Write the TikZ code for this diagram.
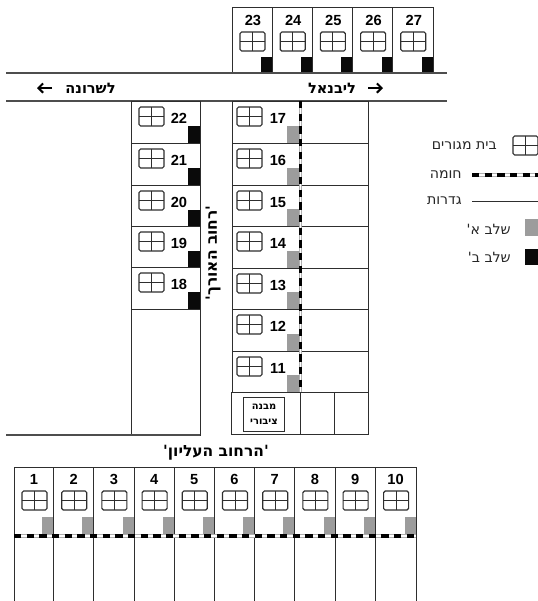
\documentclass[tikz,border=0pt]{standalone}
\usepackage{fontspec}
\setmainfont{Liberation Sans}
\newfontfamily\heb[Script=Hebrew]{DejaVu Sans}
\TeXXeTstate=1
\usetikzlibrary{arrows.meta}
\definecolor{ink}{HTML}{2E2E2E}
\definecolor{stageA}{HTML}{9C9C9C}
\definecolor{stageB}{HTML}{0A0A0A}
\tikzset{
  x=0.75pt,y=-0.75pt,
  fence/.style={draw=ink,line width=0.75pt},
  street/.style={draw=ink!85,line width=0.95pt},
  lot/.style={fence,fill=white},
  windowbox/.style={draw=ink,line width=0.85pt,rounded corners=1.2pt,fill=white},
  windowbar/.style={draw=ink,line width=0.7pt},
  sqA/.style={fill=stageA,draw=none},
  sqB/.style={fill=stageB,draw=none},
  numlabel/.style={font=\bfseries\fontsize{11}{12}\selectfont,text=black,inner sep=0pt,text height=8pt,text depth=0pt},
  heblabel/.style={font=\heb\bfseries\fontsize{10.9}{12}\selectfont,text=black,inner sep=0pt},
  streetname/.style={font=\heb\bfseries\fontsize{11.6}{13}\selectfont,text=black,inner sep=0pt},
  legendlabel/.style={font=\heb\fontsize{10.6}{12}\selectfont,text=black!85,inner sep=0pt},
  boxlabel/.style={font=\heb\bfseries\fontsize{7.4}{10}\selectfont,text=black,inner sep=0pt,align=center},
  dirarrow/.style={draw=black,line width=1.5pt,-{Straight Barb[length=3.5pt,width=7pt,line width=1.5pt]}},
  wallbase/.style={draw=stageA!80,line width=2.6pt},
  wallmid/.style={draw=white,line width=1.1pt},
  walldash/.style={draw=black,line width=2.6pt,dash pattern=on 5.5pt off 4pt},
}
% window at top-left (#1,#2)
\newcommand{\winbox}[2]{%
  \draw[windowbox] (#1,#2) rectangle ++(25,19);
  \draw[windowbar] (#1,#2+9.5) -- ++(25,0);
  \draw[windowbar] (#1+12.5,#2) -- ++(0,19);
}
\newcommand{\wallline}[2]{%
  \draw[wallbase] #1 -- #2;
  \draw[wallmid] #1 -- #2;
  \draw[walldash] #1 -- #2;
}
\begin{document}
\begin{tikzpicture}
\useasboundingbox (0,0) rectangle (538,601);
\fill[white] (0,0) rectangle (538,601);

% top row 23-27
\foreach \n/\x in {23/232,24/272.2,25/312.4,26/352.6,27/392.8}{
  \draw[lot] (\x,7) rectangle ++(40.2,65);
  \fill[sqB] (\x+29,57) rectangle ++(11.2,15);
  \winbox{\x+8}{32}
  \node[numlabel] (n\n) at (\x+21,20) {\n};
}

% street
\coordinate (sa) at (6,73); \coordinate (sb) at (447,73);
\coordinate (sc) at (6,101); \coordinate (sd) at (447,101);
\draw[street] (sa) -- (sb);
\draw[street] (sc) -- (sd);
\node[heblabel] (sharona) at (90.5,88) {\beginR לשרונה\endR};
\node[heblabel] (livnat) at (332,88) {\beginR ליבנאל\endR};
\coordinate (a1s) at (52,88); \coordinate (a1e) at (37,88);
\coordinate (a2s) at (368,88); \coordinate (a2e) at (383,88);
\draw[dirarrow] (a1s) -- (a1e);
\draw[dirarrow] (a2s) -- (a2e);

% left column 22-18
\foreach \n/\y in {22/101,21/143,20/185,19/226,18/267}{
  \draw[lot] (131,\y) rectangle (200,\y+42);
  \fill[sqB] (188,\y+25) rectangle (200,\y+42);
  \winbox{139}{\y+6}
  \node[numlabel] (n\n) at (179,\y+17) {\n};
}
\draw[lot] (131,309) rectangle (200,435);
\coordinate (bl) at (6,435); \coordinate (br) at (200,435);
\draw[street] (bl) -- (br);

% rotated street name
\node[streetname,rotate=90] (longst) at (213,253) {\beginR 'רחוב האורך'\endR};

% right column 17-11
\foreach \n/\y/\h in {17/101/42,16/143/42,15/185/41,14/226/42,13/268/41,12/309/42,11/351/41}{
  \draw[lot] (232,\y) rectangle (301,\y+\h);
  \draw[lot] (301,\y) rectangle (368,\y+\h);
  \fill[sqA] (287,\y+\h-17) rectangle (300,\y+\h);
  \winbox{237}{\y+6}
  \node[numlabel] (n\n) at (278,\y+17) {\n};
}
\coordinate (wt) at (300.5,101); \coordinate (wb) at (300.5,392);
\wallline{(wt)}{(wb)}

% public building plot
\draw[lot] (231,392) rectangle (300,434);
\draw[lot] (300,392) rectangle (334,434);
\draw[lot] (334,392) rectangle (368,434);
\node[draw=ink,line width=0.7pt,minimum width=31pt,minimum height=26pt,inner sep=0pt] (pubbox) at (264,414.5) {};
\node[boxlabel] (pub) at (pubbox.center) {\beginR מבנה\endR\\[1pt]\beginR ציבורי\endR};

% upper street name
\node[streetname] (upperst) at (216,453) {\beginR 'הרחוב העליון'\endR};

% bottom row 1-10
\foreach \n/\x/\w in {1/14/39.7,2/53.7/40.2,3/93.9/40.2,4/134.1/40.2,5/174.3/40.2,6/214.5/40.2,7/254.7/40.2,8/294.9/40.2,9/335.1/40.5,10/375.6/40.4}{
  \draw[lot] (\x,467) rectangle ++(\w,134);
  \fill[sqA] (\x+\w-11.5,517) rectangle ++(11.5,17);
  \winbox{\x+8}{491}
  \node[numlabel] (n\n) at (\x+20,479) {\n};
}
\coordinate (wl) at (14,536); \coordinate (wr) at (416,536);
\wallline{(wl)}{(wr)}

% legend
\winbox{513}{136}
\node[legendlabel,anchor=east] (lg1) at (497,146) {\beginR בית מגורים\endR};
\node[legendlabel,anchor=east] (lg2) at (462,175) {\beginR חומה\endR};
\coordinate (lw1) at (472,175); \coordinate (lw2) at (538,175);
\wallline{(lw1)}{(lw2)}
\node[legendlabel,anchor=east] (lg3) at (462,201) {\beginR גדרות\endR};
\coordinate (lf1) at (472,201); \coordinate (lf2) at (538,201);
\draw[fence] (lf1) -- (lf2);
\node[legendlabel,anchor=east] (lg4) at (511,229) {\beginR שלב א'\endR};
\fill[sqA] (525,219) rectangle (538,236);
\node[legendlabel,anchor=east] (lg5) at (511,257) {\beginR שלב ב'\endR};
\fill[sqB] (525,249) rectangle (538,265);
\end{tikzpicture}
\end{document}
